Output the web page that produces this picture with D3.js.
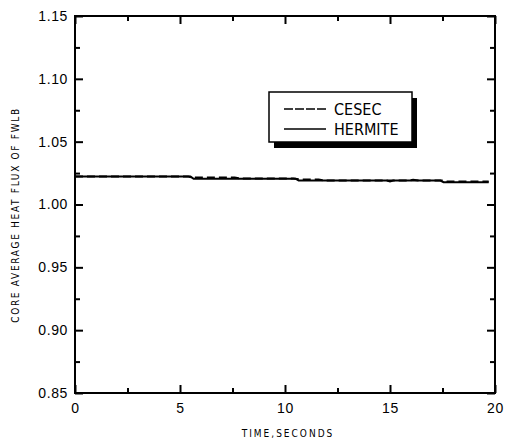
<!DOCTYPE html>
<html>
<head>
<meta charset="utf-8">
<script src="https://cdn.jsdelivr.net/npm/d3@7"></script>
<style>
  body { margin: 0; background: #fff; }
  svg { display: block; }
  .tick text { font-family: "Liberation Sans", Arial, sans-serif; font-size: 14px; fill: #000; }
  .axis path, .axis line { stroke: #000; stroke-width: 2px; }
</style>
</head>
<body>
<div id="chart"></div>
<script>
// Series
const hermiteTime = [0, 5.5, 5.65, 10.5, 10.65, 14.85, 15.0, 15.15, 17.4, 17.55, 19.7]
const hermiteFlux = [1.0222, 1.0222, 1.0205, 1.0205, 1.0191, 1.0191, 1.0184, 1.0191, 1.0191, 1.0178, 1.0178]

const cesecTime = [0, 5.4, 5.6, 7.6, 7.9, 10.4, 10.7, 11.6, 11.9, 15.9, 16.1, 16.4, 17.5, 17.7, 19.7]
const cesecFlux = [1.0222, 1.0222, 1.0214, 1.0214, 1.0206, 1.0206, 1.0199, 1.0199, 1.0191, 1.0191, 1.0197, 1.0191, 1.0190, 1.0183, 1.0183]

const xMajor = [0, 5, 10, 15, 20]
const xMinor = [2.5, 7.5, 12.5, 17.5]
const yMajor = [0.85, 0.90, 0.95, 1.00, 1.05, 1.10, 1.15]
const yMinor = [0.875, 0.925, 0.975, 1.025, 1.075, 1.125]

const seriesNames = ['CESEC', 'HERMITE']

const width = 506
const height = 447
const margin = { top: 16, right: 11, bottom: 54, left: 75 }

const svg = d3.select('#chart').append('svg')
  .attr('width', width)
  .attr('height', height)

const x = d3.scaleLinear().domain([0, 20]).range([margin.left, width - margin.right])
const y = d3.scaleLinear().domain([0.85, 1.15]).range([height - margin.bottom, margin.top])

// axes, ticks pointing into the plot
const addAxis = (axis, transform, showLabels) => {
  const g = svg.append('g').attr('class', 'axis').attr('transform', transform).call(axis)
  g.select('.domain').remove()
  if (!showLabels) g.selectAll('text').remove()
  return g
}

const bottom = height - margin.bottom
addAxis(d3.axisBottom(x).tickValues(xMajor).tickSize(-8).tickPadding(10).tickFormat(d3.format('d')),
  'translate(0,' + bottom + ')', true)
addAxis(d3.axisBottom(x).tickValues(xMinor).tickSize(-5).tickFormat(''), 'translate(0,' + bottom + ')', false)
addAxis(d3.axisTop(x).tickValues(xMajor).tickSize(-8), 'translate(0,' + margin.top + ')', false)
addAxis(d3.axisTop(x).tickValues(xMinor).tickSize(-5), 'translate(0,' + margin.top + ')', false)

addAxis(d3.axisLeft(y).tickValues(yMajor).tickSize(-8).tickPadding(7).tickFormat(d3.format('.2f')),
  'translate(' + margin.left + ',0)', true)
addAxis(d3.axisLeft(y).tickValues(yMinor).tickSize(-5).tickFormat(''), 'translate(' + margin.left + ',0)', false)
addAxis(d3.axisRight(y).tickValues(yMajor).tickSize(-8), 'translate(' + (width - margin.right) + ',0)', false)
addAxis(d3.axisRight(y).tickValues(yMinor).tickSize(-5), 'translate(' + (width - margin.right) + ',0)', false)

svg.selectAll('.tick text').attr('letter-spacing', '0.6px')

// frame
svg.append('rect')
  .attr('x', x(0)).attr('y', y(1.15))
  .attr('width', x(20) - x(0)).attr('height', y(0.85) - y(1.15))
  .attr('fill', 'none').attr('stroke', '#000').attr('stroke-width', 2)

// data lines
const line = (xs, ys) => d3.line().x((d, i) => x(xs[i])).y(d => y(d))(ys)

svg.append('path')
  .attr('d', line(hermiteTime, hermiteFlux))
  .attr('fill', 'none').attr('stroke', '#000').attr('stroke-width', 2)

svg.append('path')
  .attr('d', line(cesecTime, cesecFlux))
  .attr('fill', 'none').attr('stroke', '#000').attr('stroke-width', 2)
  .attr('stroke-dasharray', '8,4')

// axis titles
svg.append('text')
  .attr('x', 288).attr('y', 437)
  .attr('text-anchor', 'middle')
  .attr('font-family', '"Liberation Sans Narrow", "DejaVu Sans Condensed", sans-serif')
  .attr('font-size', 10)
  .attr('letter-spacing', '2px')
  .text('TIME,SECONDS')

svg.append('text')
  .attr('transform', 'translate(19,215) rotate(-90)')
  .attr('text-anchor', 'middle')
  .attr('font-family', '"Liberation Sans Narrow", "DejaVu Sans Condensed", sans-serif')
  .attr('font-size', 10)
  .attr('letter-spacing', '1.7px')
  .text('CORE AVERAGE HEAT FLUX OF FWLB')

// legend with drop shadow
const legend = svg.append('g').attr('transform', 'translate(269,92)')
legend.append('rect')
  .attr('x', 5).attr('y', 6).attr('width', 143).attr('height', 50)
  .attr('fill', '#000')
legend.append('rect')
  .attr('x', 0).attr('y', 0).attr('width', 143).attr('height', 50)
  .attr('fill', '#fff').attr('stroke', '#000').attr('stroke-width', 1.5)

seriesNames.forEach((name, i) => {
  const ly = 17 + i * 20
  legend.append('line')
    .attr('x1', 15).attr('x2', 57).attr('y1', ly).attr('y2', ly)
    .attr('stroke', '#000').attr('stroke-width', 1.5)
    .attr('stroke-dasharray', i === 0 ? '9,2' : null)
  legend.append('text')
    .attr('x', 65).attr('y', ly + 6)
    .attr('font-family', '"Liberation Sans Narrow", "DejaVu Sans Condensed", sans-serif')
    .attr('font-size', 16)
    .text(name)
})
</script>
</body>
</html>
